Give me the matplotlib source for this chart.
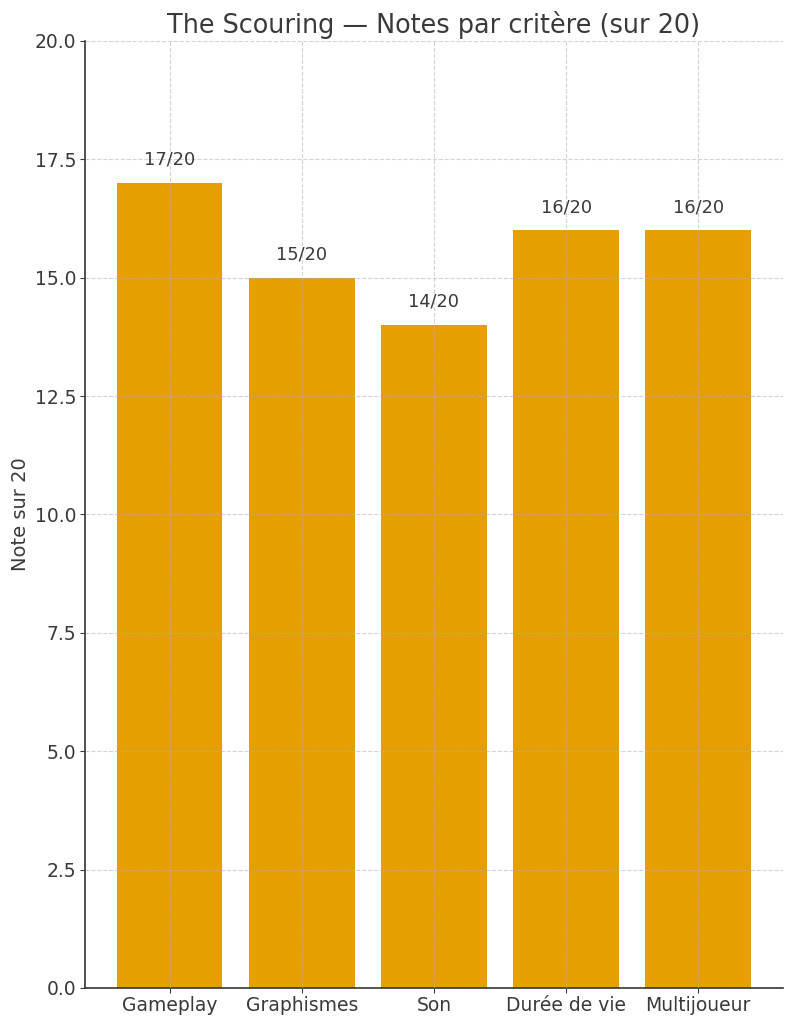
import matplotlib
matplotlib.use("Agg")
import matplotlib.pyplot as plt

categories = ["Gameplay", "Graphismes", "Son", "Durée de vie", "Multijoueur"]
scores = [17, 15, 14, 16, 16]
labels = ["17/20", "15/20", "14/20", "16/20", "16/20"]

text_color = "#3a3a3a"
plt.rcParams['font.family'] = ['DejaVu Sans']

fig = plt.figure(figsize=(7.94, 10.24), dpi=100)
ax = fig.add_axes([0.107, 0.0352, 0.879, 0.9248])

x = list(range(len(categories)))
ax.bar(x, scores, width=0.8, color="#E69F00")
for xi, s, lab in zip(x, scores, labels):
    ax.text(xi, s + 0.3, lab, ha="center", va="bottom", fontsize=12.8, color=text_color)

ax.set_ylim(0, 20)
ax.set_xticks(x)
ax.set_xticklabels(categories)
ax.set_yticks([0, 2.5, 5, 7.5, 10, 12.5, 15, 17.5, 20])
ax.set_yticklabels(["0.0", "2.5", "5.0", "7.5", "10.0", "12.5", "15.0", "17.5", "20.0"])
ax.tick_params(axis="both", labelsize=13.5, colors=text_color, pad=2.5)
ax.set_ylabel("Note sur 20", fontsize=14, color=text_color)
ax.set_title("The Scouring — Notes par critère (sur 20)", fontsize=18.4, color=text_color, pad=6)

ax.grid(True, linestyle="--", color="#b0b0b0", linewidth=0.8, alpha=0.55)
ax.set_axisbelow(False)
for side in ["top", "right"]:
    ax.spines[side].set_visible(False)
for side in ["left", "bottom"]:
    ax.spines[side].set_color("#333333")
    ax.spines[side].set_linewidth(1.2)

fig.savefig("out.png", dpi=100)
